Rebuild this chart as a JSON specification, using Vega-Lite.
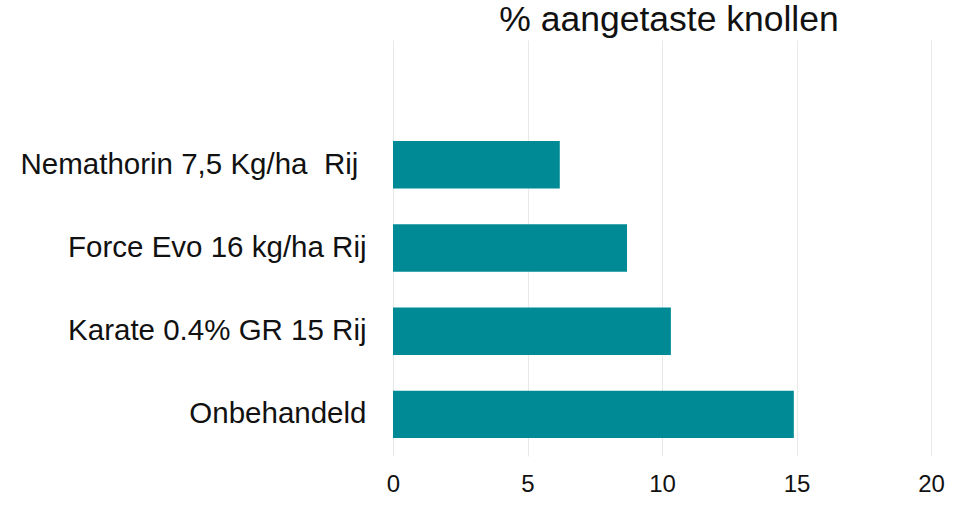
{
  "$schema": "https://vega.github.io/schema/vega-lite/v6.json",
  "width": 538,
  "height": 416,
  "autosize": "none",
  "padding": {"left": 393, "top": 40, "right": 41, "bottom": 60},
  "background": "white",
  "title": {
    "text": "% aangetaste knollen",
    "fontSize": 35.5,
    "font": "Liberation Sans",
    "fontWeight": "normal",
    "color": "#111111",
    "anchor": "middle",
    "offset": 2,
    "dx": 7
  },
  "data": {
    "values": [
      {"behandeling": "Nemathorin 7,5 Kg/ha\u00a0 Rij\u00a0\u200b", "waarde": 6.2},
      {"behandeling": "Force Evo 16 kg/ha Rij", "waarde": 8.7},
      {"behandeling": "Karate 0.4% GR 15 Rij", "waarde": 10.33},
      {"behandeling": "Onbehandeld", "waarde": 14.9}
    ]
  },
  "mark": {"type": "bar", "color": "#008A95"},
  "encoding": {
    "y": {
      "field": "behandeling",
      "type": "nominal",
      "sort": null,
      "scale": {
        "domain": [" ", "Nemathorin 7,5 Kg/ha\u00a0 Rij\u00a0\u200b", "Force Evo 16 kg/ha Rij", "Karate 0.4% GR 15 Rij", "Onbehandeld"],
        "paddingInner": 0.43,
        "paddingOuter": 0.215
      },
      "axis": {
        "title": null,
        "ticks": false,
        "domain": false,
        "labelFontSize": 29.5,
        "labelFont": "Liberation Sans",
        "labelColor": "#111111",
        "labelPadding": 27,
        "labelLimit": 500
      }
    },
    "x": {
      "field": "waarde",
      "type": "quantitative",
      "scale": {"domain": [0, 20]},
      "axis": {
        "title": null,
        "values": [0, 5, 10, 15, 20],
        "ticks": false,
        "domain": false,
        "grid": true,
        "gridColor": "#e8e8e8",
        "gridWidth": 1,
        "labelFlush": false,
        "labelFontSize": 24,
        "labelFont": "Liberation Sans",
        "labelColor": "#111111",
        "labelPadding": 16
      }
    }
  },
  "config": {"view": {"stroke": null}}
}
